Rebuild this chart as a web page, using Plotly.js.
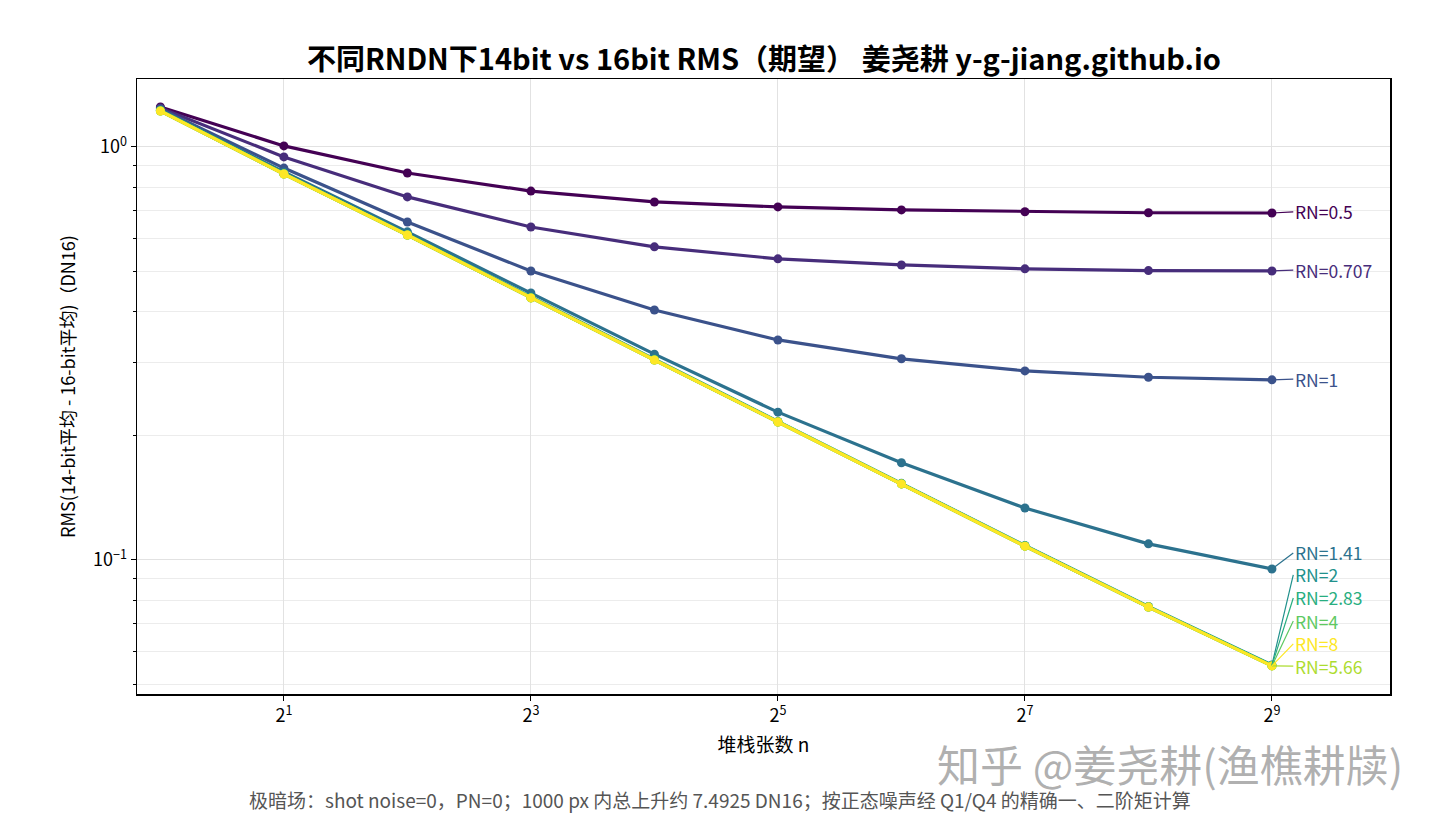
<!DOCTYPE html>
<html>
<head>
<meta charset="utf-8">
<script src="https://cdn.plot.ly/plotly-3.0.1.min.js"></script>
<style>
  html, body { margin: 0; padding: 0; background: #fff; }
  #chart { width: 1440px; height: 827px; }
</style>
</head>
<body>
<div id="chart"></div>
<script>
// stack sizes (frames averaged)
var stackN = [1, 2, 4, 8, 16, 32, 64, 128, 256, 512];

// read-noise levels (DN) and their labels
var rnNames = ['RN=0.5', 'RN=0.707', 'RN=1', 'RN=1.41', 'RN=2', 'RN=2.83', 'RN=4', 'RN=5.66', 'RN=8'];

// RMS(14-bit mean - 16-bit mean), DN16, one list per RN
var rms05  = [1.250, 1.006, 0.865, 0.782, 0.736, 0.716, 0.704, 0.697, 0.693, 0.692];
var rms071 = [1.243, 0.946, 0.757, 0.640, 0.573, 0.536, 0.518, 0.507, 0.502, 0.501];
var rms1   = [1.236, 0.889, 0.658, 0.501, 0.403, 0.341, 0.307, 0.287, 0.277, 0.273];
var rms141 = [1.229, 0.870, 0.623, 0.443, 0.315, 0.228, 0.172, 0.1336, 0.1094, 0.0951];
var rms2   = [1.226, 0.863, 0.614, 0.433, 0.3065, 0.2165, 0.1533, 0.1084, 0.0772, 0.0557];
var rms283 = [1.223, 0.861, 0.612, 0.4315, 0.3052, 0.2159, 0.1528, 0.1081, 0.0769, 0.0555];
var rms4   = [1.222, 0.860, 0.612, 0.431, 0.305, 0.2158, 0.1528, 0.1080, 0.0769, 0.0554];
var rms566 = [1.222, 0.860, 0.612, 0.431, 0.305, 0.2158, 0.1528, 0.1080, 0.0769, 0.0554];
var rms8   = [1.222, 0.860, 0.612, 0.431, 0.305, 0.2158, 0.1528, 0.1080, 0.0769, 0.0554];

var rmsSeries = [rms05, rms071, rms1, rms141, rms2, rms283, rms4, rms566, rms8];

// axis tick labels
var xTickVals = [2, 8, 32, 128, 512];
var xTickText = ['2<sup>1</sup>', '2<sup>3</sup>', '2<sup>5</sup>', '2<sup>7</sup>', '2<sup>9</sup>'];
var yTickVals = [1, 0.1];
var yTickText = ['10<sup>0</sup>', '10<sup>\u22121</sup>'];

// viridis, sampled for 9 series
var colors = ['#440154', '#472d7b', '#3b528b', '#2c728e', '#21918c',
              '#28ae80', '#5ec962', '#addc30', '#fde725'];

// where the end labels sit (log10 of y, as annotations on log axes want),
// stacked so they do not overlap
var labelLogY = [-0.157, -0.298, -0.562, -0.983, -1.036, -1.092, -1.148, -1.257, -1.203];

var FONT = '"Noto Sans CJK SC", "Noto Sans", sans-serif';

var traces = [];
for (var i = 0; i < rmsSeries.length; i++) {
    traces.push({
        x: stackN,
        y: rmsSeries[i],
        name: rnNames[i],
        type: 'scatter',
        mode: 'lines+markers',
        line: { color: colors[i], width: 3.2 },
        marker: { color: colors[i], size: 9 },
        hoverinfo: 'skip',
        showlegend: false
    });
}

var xRange = [-0.057, 2.997];
var yRange = [-1.3245, 0.1646];

var annotations = [];
var lastN = stackN[stackN.length - 1];
for (var j = 0; j < rmsSeries.length; j++) {
    var lastV = rmsSeries[j][rmsSeries[j].length - 1];
    annotations.push({
        x: Math.log10(lastN),
        y: Math.log10(lastV),
        xref: 'x', yref: 'y',
        axref: 'x', ayref: 'y',
        ax: Math.log10(lastN) + 0.052,
        ay: labelLogY[j],
        text: rnNames[j],
        xanchor: 'left',
        yanchor: 'middle',
        showarrow: true,
        arrowhead: 0,
        arrowwidth: 1.2,
        arrowcolor: colors[j],
        standoff: 0,
        font: { family: FONT, size: 17.5, color: colors[j] }
    });
}

// footnote
annotations.push({
    text: '极暗场：shot noise=0，PN=0；1000 px 内总上升约 7.4925 DN16；按正态噪声经 Q1/Q4 的精确一、二阶矩计算',
    xref: 'paper', yref: 'paper',
    x: 0.465, y: -0.172,
    xanchor: 'center', yanchor: 'middle',
    showarrow: false,
    font: { family: FONT, size: 19, color: '#555555' }
});

// watermark
annotations.push({
    text: '知乎 @姜尧耕(渔樵耕牍)',
    xref: 'paper', yref: 'paper',
    x: 1.012, y: -0.113,
    xanchor: 'right', yanchor: 'middle',
    showarrow: false,
    font: { family: FONT, size: 43, color: 'rgba(150,150,150,0.75)' }
});

var axisCommon = {
    showline: true,
    linecolor: '#000000',
    linewidth: 1.5,
    mirror: true,
    ticks: 'outside',
    ticklen: 5,
    tickwidth: 1,
    tickcolor: '#000000',
    gridcolor: '#e2e2e2',
    gridwidth: 1,
    zeroline: false,
    tickfont: { family: FONT, size: 18, color: '#000000' }
};

var layout = {
    width: 1440,
    height: 827,
    paper_bgcolor: 'white',
    plot_bgcolor: 'white',
    margin: { l: 137, r: 50, t: 79, b: 133, pad: 0 },
    title: {
        text: '<b>不同RNDN下14bit vs 16bit RMS（期望） 姜尧耕 y-g-jiang.github.io</b>',
        x: 0.5305, xanchor: 'center',
        y: 0.928, yanchor: 'middle',
        font: { family: FONT, size: 29, color: '#000000' }
    },
    xaxis: Object.assign({}, axisCommon, {
        type: 'log',
        range: xRange,
        tickmode: 'array',
        tickvals: xTickVals,
        ticktext: xTickText,
        showgrid: true,
        title: {
            text: '堆栈张数 n',
            standoff: 12,
            font: { family: FONT, size: 19, color: '#000000' }
        }
    }),
    yaxis: Object.assign({}, axisCommon, {
        type: 'log',
        range: yRange,
        tickmode: 'array',
        tickvals: yTickVals,
        ticktext: yTickText,
        showgrid: true,
        minor: {
            dtick: 'D1',
            ticks: 'outside',
            ticklen: 3,
            tickcolor: '#000000',
            showgrid: true,
            gridcolor: '#ececec',
            gridwidth: 1
        },
        title: {
            text: 'RMS(14-bit平均 - 16-bit平均)（DN16)',
            standoff: 12,
            font: { family: FONT, size: 18, color: '#000000' }
        }
    }),
    annotations: annotations,
    hovermode: false,
    showlegend: false
};

Plotly.newPlot('chart', traces, layout, { displayModeBar: false, staticPlot: true });
</script>
</body>
</html>
